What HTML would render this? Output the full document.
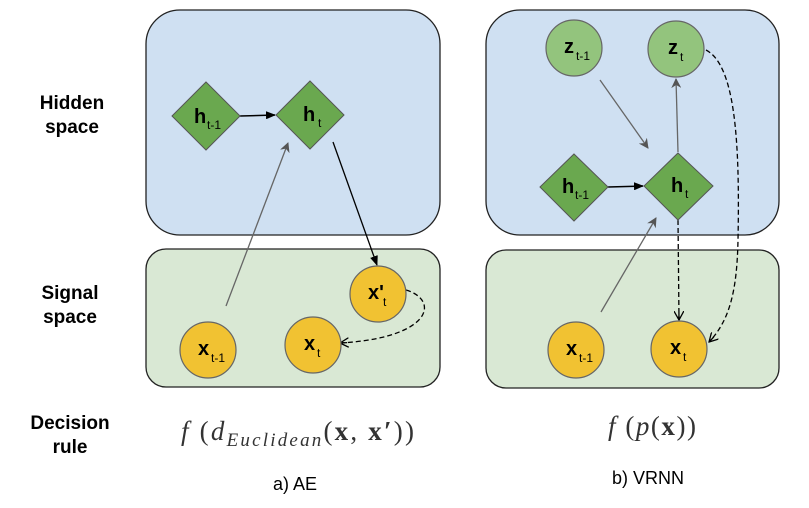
<!DOCTYPE html>
<html><head><meta charset="utf-8"><style>
html,body{margin:0;padding:0;background:#fff;width:809px;height:508px;overflow:hidden}
svg{display:block}
.lbl{font-family:"Liberation Sans",sans-serif;font-weight:bold;font-size:19px;fill:#000;text-anchor:middle}
.n{font-family:"Liberation Sans",sans-serif;font-weight:bold;font-size:20px;fill:#000}
.s{font-family:"Liberation Sans",sans-serif;font-size:12px;fill:#000}
.m{font-family:"Liberation Serif",serif;font-size:27px;fill:#333}
.cap{font-family:"Liberation Sans",sans-serif;font-size:18px;fill:#000;text-anchor:middle}
</style></head><body>
<svg width="809" height="508" viewBox="0 0 809 508" xmlns="http://www.w3.org/2000/svg">
<defs>
<marker id="ab" markerWidth="10" markerHeight="8" refX="9" refY="4" orient="auto" markerUnits="userSpaceOnUse"><path d="M0,0 L10,4 L0,8 z" fill="#000"/></marker>
<marker id="ag" markerWidth="10" markerHeight="10" refX="9" refY="5" orient="auto" markerUnits="userSpaceOnUse"><path d="M0,0 L10,5 L0,10 L3,5 z" fill="#555"/></marker>
<marker id="ao" markerWidth="10" markerHeight="10" refX="9" refY="5" orient="auto" markerUnits="userSpaceOnUse"><path d="M0,0 L9,5 L0,10 M9,5 L2,5" fill="none" stroke="#000" stroke-width="1.3"/></marker>
</defs>
<text class="lbl" x="72" y="109">Hidden</text><text class="lbl" x="72" y="133">space</text>
<text class="lbl" x="70" y="299">Signal</text><text class="lbl" x="70" y="323">space</text>
<text class="lbl" x="70" y="429">Decision</text><text class="lbl" x="70" y="453">rule</text>

<rect x="146" y="10" width="294" height="225" rx="34" fill="#cfe0f2" stroke="#222" stroke-width="1.3"/>
<rect x="146" y="249" width="294" height="138" rx="20" fill="#d9e8d4" stroke="#222" stroke-width="1.3"/>
<rect x="486" y="10" width="293" height="225" rx="34" fill="#cfe0f2" stroke="#222" stroke-width="1.3"/>
<rect x="486" y="250" width="293" height="138" rx="20" fill="#d9e8d4" stroke="#222" stroke-width="1.3"/>

<line x1="240" y1="116" x2="275" y2="115" stroke="#000" stroke-width="1.5" marker-end="url(#ab)"/>
<line x1="226" y1="306" x2="288" y2="143" stroke="#666" stroke-width="1.3" marker-end="url(#ag)"/>
<line x1="333" y1="142" x2="377" y2="265" stroke="#000" stroke-width="1.3" marker-end="url(#ab)"/>
<path d="M406,290 C440,300 432,338 340,343" fill="none" stroke="#000" stroke-width="1.3" stroke-dasharray="5,3" marker-end="url(#ao)"/>

<polygon points="206,82 240,116 206,150 172,116" fill="#6aa84f" stroke="#555" stroke-width="1"/>
<polygon points="310,81 344,115 310,149 276,115" fill="#6aa84f" stroke="#555" stroke-width="1"/>
<circle cx="378" cy="294" r="28" fill="#f1c232" stroke="#666" stroke-width="1.2"/>
<circle cx="313" cy="345" r="28" fill="#f1c232" stroke="#666" stroke-width="1.2"/>
<circle cx="208" cy="350" r="28" fill="#f1c232" stroke="#666" stroke-width="1.2"/>
<text class="n" x="194" y="123">h</text><text class="s" x="207" y="129">t-1</text>
<text class="n" x="303" y="121">h</text><text class="s" x="318" y="127">t</text>
<text class="n" x="368" y="299">x'</text><text class="s" x="383" y="306">t</text>
<text class="n" x="304" y="350">x</text><text class="s" x="317" y="357">t</text>
<text class="n" x="198" y="355">x</text><text class="s" x="211" y="362">t-1</text>

<line x1="608" y1="187" x2="643" y2="186" stroke="#000" stroke-width="1.5" marker-end="url(#ab)"/>
<line x1="600" y1="80" x2="648" y2="148" stroke="#666" stroke-width="1.3" marker-end="url(#ag)"/>
<line x1="678" y1="152" x2="676" y2="79" stroke="#666" stroke-width="1.3" marker-end="url(#ag)"/>
<line x1="601" y1="312" x2="656" y2="218" stroke="#666" stroke-width="1.3" marker-end="url(#ag)"/>
<line x1="678" y1="220" x2="679" y2="320" stroke="#000" stroke-width="1.3" stroke-dasharray="5,3" marker-end="url(#ao)"/>
<path d="M706,50 C735,65 740,140 738,240 C737,290 730,320 709,342" fill="none" stroke="#000" stroke-width="1.3" stroke-dasharray="5,3" marker-end="url(#ao)"/>

<circle cx="574" cy="48" r="28" fill="#93c47d" stroke="#666" stroke-width="1.2"/>
<circle cx="676" cy="49" r="28" fill="#93c47d" stroke="#666" stroke-width="1.2"/>
<polygon points="574,154 608,187 574,221 540,187" fill="#6aa84f" stroke="#555" stroke-width="1"/>
<polygon points="678,153 713,186 678,220 644,186" fill="#6aa84f" stroke="#555" stroke-width="1"/>
<circle cx="576" cy="350" r="28" fill="#f1c232" stroke="#666" stroke-width="1.2"/>
<circle cx="679" cy="349" r="28" fill="#f1c232" stroke="#666" stroke-width="1.2"/>
<text class="n" x="564" y="53">z</text><text class="s" x="576" y="60">t-1</text>
<text class="n" x="668" y="54">z</text><text class="s" x="680" y="61">t</text>
<text class="n" x="562" y="193">h</text><text class="s" x="575" y="199">t-1</text>
<text class="n" x="671" y="192">h</text><text class="s" x="685" y="198">t</text>
<text class="n" x="566" y="355">x</text><text class="s" x="579" y="362">t-1</text>
<text class="n" x="670" y="354">x</text><text class="s" x="683" y="361">t</text>

<text class="m" x="181" y="440" textLength="233" lengthAdjust="spacing"><tspan font-style="italic">f</tspan> (<tspan font-style="italic">d</tspan><tspan font-style="italic" font-size="19" dy="6">Euclidean</tspan><tspan dy="-6">(</tspan><tspan font-weight="bold">x</tspan>, <tspan font-weight="bold">x′</tspan>))</text>
<text class="m" x="608" y="435" textLength="88" lengthAdjust="spacing"><tspan font-style="italic">f</tspan> (<tspan font-style="italic">p</tspan>(<tspan font-weight="bold">x</tspan>))</text>

<text class="cap" x="295" y="490">a) AE</text>
<text class="cap" x="648" y="484">b) VRNN</text>
</svg>
</body></html>
